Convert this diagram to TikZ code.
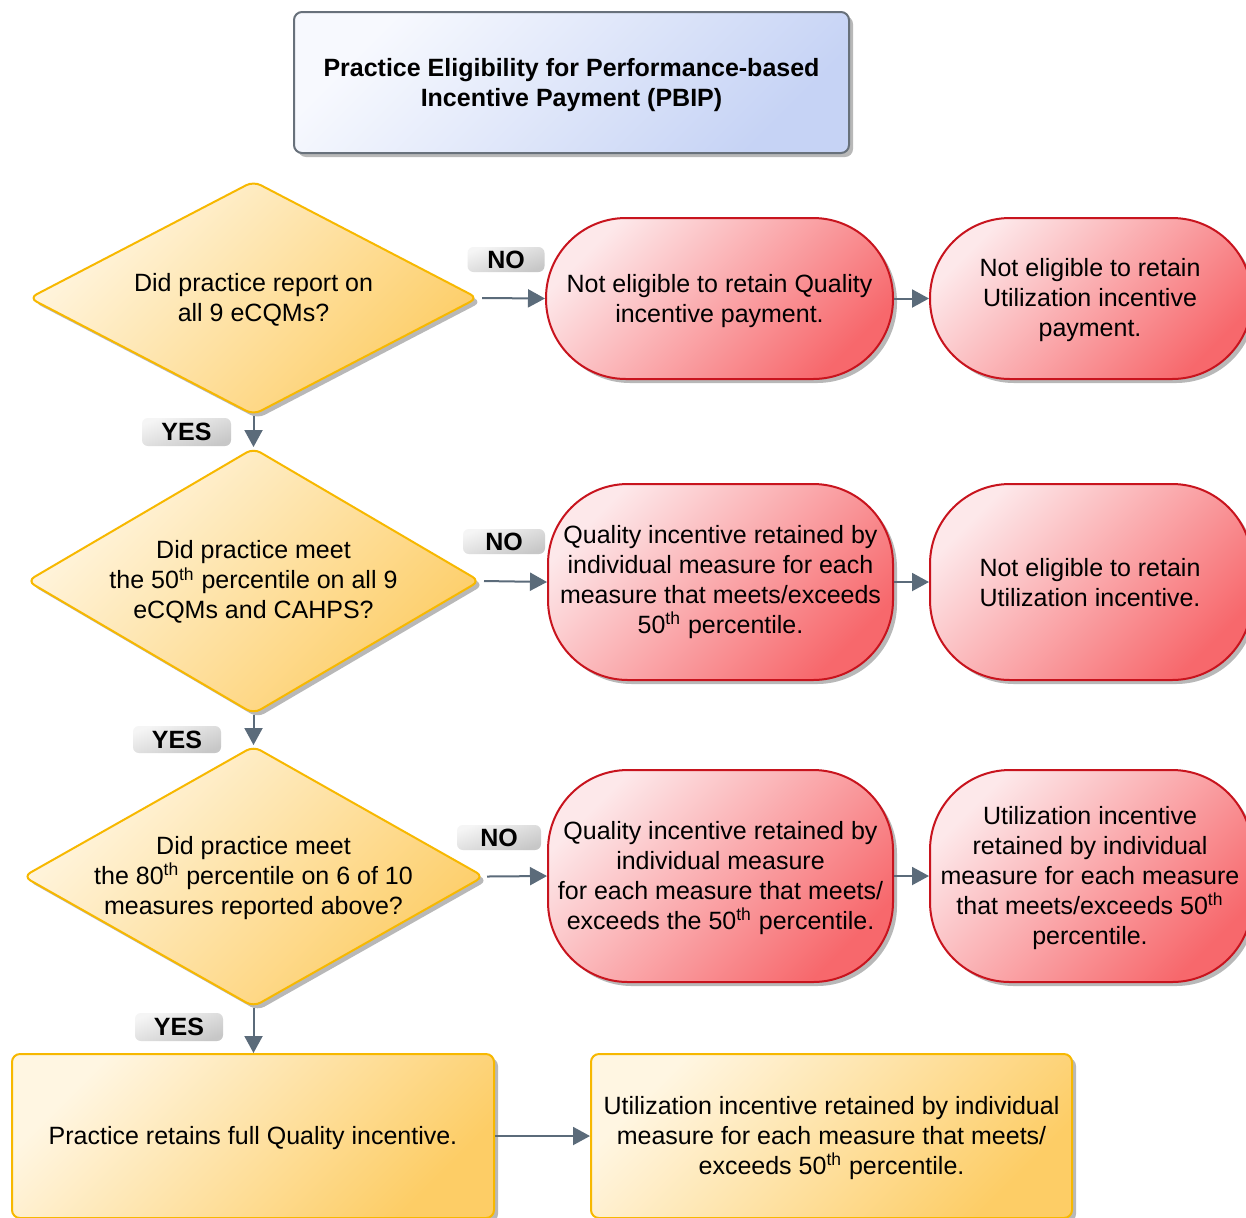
\documentclass[tikz,border=0pt]{standalone}
\usepackage{fontspec}
\setmainfont{Liberation Sans}
\usetikzlibrary{shapes.geometric,arrows.meta,shadows}
\definecolor{arrowc}{HTML}{5B6B7A}
\definecolor{redborder}{HTML}{C8141E}
\definecolor{redlight}{HTML}{FDE8EA}
\definecolor{reddark}{HTML}{F7686C}
\definecolor{yelborder}{HTML}{F7B800}
\definecolor{yellight}{HTML}{FFF6E2}
\definecolor{yeldark}{HTML}{FDCD66}
\definecolor{bluelight}{HTML}{F7F9FE}
\definecolor{bluedark}{HTML}{C6D3F5}
\definecolor{titleborder}{HTML}{68717B}
\newcommand\thsup{\smash{\textsuperscript{th}}}
\tikzset{
  x=0.5pt, y=-0.5pt,
  base/.style={inner sep=0pt, line width=1pt,
    drop shadow={shadow xshift=2pt, shadow yshift=-2pt, fill=black, opacity=0.28}},
  txt/.style={font=\fontsize{12.5}{15}\selectfont, align=center, inner sep=0pt, yshift=-1.1pt},
  decision/.style={base, diamond, draw=yelborder, top color=yellight, bottom color=yeldark, shading angle=45, rounded corners=4pt},
  stadium/.style={base, rectangle, draw=redborder, top color=redlight, bottom color=reddark, shading angle=45, rounded corners=40pt},
  result/.style={base, rectangle, draw=yelborder, top color=yellight, bottom color=yeldark, shading angle=45, rounded corners=4pt},
  titlebox/.style={base, rectangle, draw=titleborder, top color=bluelight, bottom color=bluedark, shading angle=45, rounded corners=4pt},
  lbl/.style={rectangle, rounded corners=3pt, inner sep=0pt, top color=white!96!black, bottom color=black!22, shading angle=20, font=\fontsize{12.5}{15}\selectfont\bfseries},
  arr/.style={draw=arrowc, line width=1pt, -{Triangle[length=8.5pt,width=9pt]}}
}
\begin{document}
\begin{tikzpicture}
\useasboundingbox (0,0) rectangle (1246,1217);
\clip (0,0) rectangle (1246,1217);
\fill[white] (0,0) rectangle (1246,1217);

% title
\node[titlebox, minimum width=277.5pt, minimum height=70.5pt] (title) at (571.5,82.5) {};
\node[txt, font=\fontsize{12.5}{15}\selectfont\bfseries, yshift=-0.4pt] (titlet) at (title.center)
  {Practice Eligibility for Performance-based\\Incentive Payment (PBIP)};

% decisions
\node[decision, minimum width=224.5pt, minimum height=117pt] (d1) at (253.5,298) {};
\node[txt] (d1t) at (d1.center) {Did practice report on\\all 9 eCQMs?};
\node[decision, minimum width=226.5pt, minimum height=133pt] (d2) at (253.5,581) {};
\node[txt] (d2t) at (253.5,580) {Did practice meet\\the 50\thsup{} percentile on all 9\\eCQMs and CAHPS?};
\node[decision, minimum width=230.5pt, minimum height=130.5pt] (d3) at (253.5,876.5) {};
\node[txt] (d3t) at (253.5,876) {Did practice meet\\the 80\thsup{} percentile on 6 of 10\\measures reported above?};

% red outcomes
\node[stadium, minimum width=173.5pt, minimum height=80.5pt] (r1a) at (719.5,298.5) {};
\node[txt] (r1at) at (r1a.center) {Not eligible to retain Quality\\incentive payment.};
\node[stadium, minimum width=161pt, minimum height=80.5pt] (r1b) at (1091,298.5) {};
\node[txt] (r1bt) at (1090,298) {Not eligible to retain\\Utilization incentive\\payment.};
\node[stadium, minimum width=172.5pt, minimum height=98pt] (r2a) at (720.5,582) {};
\node[txt] (r2at) at (720.5,580) {Quality incentive retained by\\individual measure for each\\measure that meets/exceeds\\50\thsup{} percentile.};
\node[stadium, minimum width=161pt, minimum height=98pt] (r2b) at (1091,582) {};
\node[txt] (r2bt) at (1090,580) {Not eligible to retain\\Utilization incentive.};
\node[stadium, minimum width=172.5pt, minimum height=106pt] (r3a) at (720.5,876) {};
\node[txt] (r3at) at (r3a.center) {Quality incentive retained by\\individual measure\\for each measure that meets/\\exceeds the 50\thsup{} percentile.};
\node[stadium, minimum width=161pt, minimum height=106pt] (r3b) at (1091,876) {};
\node[txt] (r3bt) at (1090,876) {Utilization incentive\\retained by individual\\measure for each measure\\that meets/exceeds 50\thsup\\percentile.};

% bottom results
\node[result, minimum width=241pt, minimum height=82pt] (b1) at (253,1136) {};
\node[txt] (b1t) at (b1.center) {Practice retains full Quality incentive.};
\node[result, minimum width=240.5pt, minimum height=82pt] (b2) at (831.5,1136) {};
\node[txt] (b2t) at (b2.center) {Utilization incentive retained by individual\\measure for each measure that meets/\\exceeds 50\thsup{} percentile.};

% labels
\node[lbl, minimum width=38.5pt, minimum height=12.5pt] (no1) at (506,259.5) {NO};
\node[lbl, minimum width=44.5pt, minimum height=14pt] (yes1) at (186.5,432) {YES};
\node[lbl, minimum width=41pt, minimum height=12.5pt] (no2) at (504,541.5) {NO};
\node[lbl, minimum width=44pt, minimum height=13.5pt] (yes2) at (177,739.5) {YES};
\node[lbl, minimum width=42pt, minimum height=12.5pt] (no3) at (499,837.5) {NO};
\node[lbl, minimum width=44pt, minimum height=14pt] (yes3) at (179,1027) {YES};

% connectors
\draw[arr] ([xshift=1.5pt]d1.east) -- (r1a.west);
\draw[arr] (r1a.east) -- (r1b.west);
\draw[arr] (d1.south) -- (d2.north);
\draw[arr] ([xshift=1.5pt]d2.east) -- (r2a.west);
\draw[arr] (r2a.east) -- (r2b.west);
\draw[arr] (d2.south) -- (d3.north);
\draw[arr] ([xshift=1pt]d3.east) -- (r3a.west);
\draw[arr] (r3a.east) -- (r3b.west);
\draw[arr] (d3.south) -- (d3.south |- b1.north);
\draw[arr] (b1.east) -- (b2.west);
\end{tikzpicture}
\end{document}
